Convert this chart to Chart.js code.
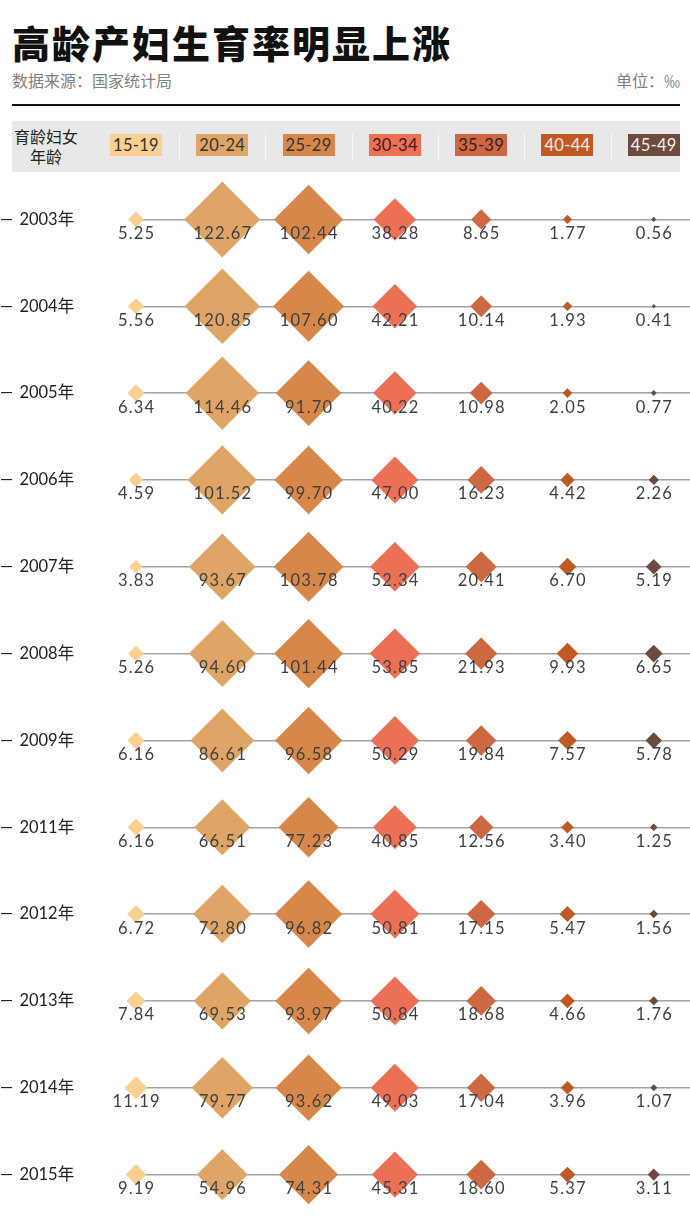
<!DOCTYPE html>
<html>
<head>
<meta charset="utf-8">
<script src="https://cdn.jsdelivr.net/npm/chart.js@4.4.1/dist/chart.umd.min.js"></script>
<style>
  html, body { margin: 0; padding: 0; background: #fff; }
  body { width: 690px; height: 1228px; position: relative; overflow: hidden; font-family: Lato, "Noto Sans CJK SC", sans-serif; }
  .abs { position: absolute; }
  #title { left: 12px; top: 19px; font-family: "Noto Sans CJK SC", sans-serif; font-weight: 900; font-size: 38px; line-height: 46px; letter-spacing: 2px; color: #111; white-space: nowrap; }
  #source { left: 12px; top: 69px; font-family: "Noto Sans CJK SC", sans-serif; font-size: 16px; line-height: 22px; color: #808080; white-space: nowrap; }
  #unit { right: 10px; top: 69px; font-family: "Noto Sans CJK SC", sans-serif; font-size: 16px; line-height: 22px; color: #808080; white-space: nowrap; }
  #rule { left: 12px; top: 104px; width: 668px; height: 2px; background: #111; }
  #band { left: 12px; top: 121px; width: 668px; height: 51px; background: #e8e8e8; }
  #bandTitle { left: 12px; top: 126px; width: 68px; text-align: center; font-family: "Noto Sans CJK SC", sans-serif; font-size: 16px; line-height: 20px; color: #222; }
  .key { top: 134px; width: 52px; height: 22px; line-height: 22px; text-align: center; font-family: Lato, sans-serif; font-size: 16.5px; letter-spacing: 0.3px; }
  .sep { top: 133px; width: 1px; height: 28px; background: #f6f6f6; }
  #wrap { left: 0; top: 176px; width: 690px; height: 1042px; }
</style>
</head>
<body>
<div id="title" class="abs">高龄产妇生育率明显上涨</div>
<div id="source" class="abs">数据来源：国家统计局</div>
<div id="unit" class="abs">单位：‰</div>
<div id="rule" class="abs"></div>
<div id="band" class="abs"></div>
<div id="bandTitle" class="abs">育龄妇女<br>年龄</div>
<div id="wrap" class="abs"><canvas id="c" width="690" height="1042"></canvas></div>
<script>
// ---- data ----
const years = ['2003年', '2004年', '2005年', '2006年', '2007年', '2008年', '2009年', '2011年', '2012年', '2013年', '2014年', '2015年'];
const ageGroups = ['15-19', '20-24', '25-29', '30-34', '35-39', '40-44', '45-49'];
const age15_19 = [5.25, 5.56, 6.34, 4.59, 3.83, 5.26, 6.16, 6.16, 6.72, 7.84, 11.19, 9.19];
const age20_24 = [122.67, 120.85, 114.46, 101.52, 93.67, 94.60, 86.61, 66.51, 72.80, 69.53, 79.77, 54.96];
const age25_29 = [102.44, 107.60, 91.70, 99.70, 103.78, 101.44, 96.58, 77.23, 96.82, 93.97, 93.62, 74.31];
const age30_34 = [38.28, 42.21, 40.22, 47.00, 52.34, 53.85, 50.29, 40.85, 50.81, 50.84, 49.03, 45.31];
const age35_39 = [8.65, 10.14, 10.98, 16.23, 20.41, 21.93, 19.84, 12.56, 17.15, 18.68, 17.04, 18.60];
const age40_44 = [1.77, 1.93, 2.05, 4.42, 6.70, 9.93, 7.57, 3.40, 5.47, 4.66, 3.96, 5.37];
const age45_49 = [0.56, 0.41, 0.77, 2.26, 5.19, 6.65, 5.78, 1.25, 1.56, 1.76, 1.07, 3.11];
const seriesValues = [age15_19, age20_24, age25_29, age30_34, age35_39, age40_44, age45_49];

// ---- styles ----
const colors = ['#f9cf92', '#dfa566', '#d8874a', '#ec7056', '#cd6842', '#c05a25', '#6d4a40'];
const keyTextColors = ['#333', '#333', '#333', '#3a1c14', '#3a1c14', '#f6ece4', '#f4f0ee'];
const SIZE_K = 3.43; // diamond half-diagonal ~ sqrt(value) (area proportional)

const datasets = seriesValues.map((vals, gi) => ({
  label: ageGroups[gi],
  data: vals.map((v, yi) => ({ x: gi, y: years[yi], v: v })),
  pointStyle: 'rectRot',
  pointRadius: ctx => SIZE_K * Math.sqrt(ctx.raw.v),
  backgroundColor: colors[gi],
  borderColor: colors[gi],
  pointBorderWidth: 0,
  showLine: false,
  clip: false
}));

const valueLabels = {
  id: 'valueLabels',
  afterDatasetsDraw(chart) {
    const ctx = chart.ctx;
    ctx.save();
    ctx.font = '16.5px Lato, sans-serif';
    try { ctx.letterSpacing = '1.2px'; } catch (e) {}
    ctx.fillStyle = '#404040';
    ctx.textAlign = 'center';
    ctx.textBaseline = 'alphabetic';
    chart.data.datasets.forEach((ds, di) => {
      const meta = chart.getDatasetMeta(di);
      meta.data.forEach((el, i) => {
        ctx.fillText(ds.data[i].v.toFixed(2), el.x + 0.6, el.y + 19.5);
      });
    });
    ctx.restore();
  }
};

const chart = new Chart(document.getElementById('c'), {
  type: 'scatter',
  data: { datasets },
  options: {
    responsive: false,
    devicePixelRatio: 1,
    animation: false,
    events: [],
    layout: { padding: 0, autoPadding: false },
    plugins: { legend: { display: false }, tooltip: { enabled: false } },
    scales: {
      x: {
        type: 'linear', min: 0, max: 6.42, display: false
      },
      y: {
        type: 'category', labels: years, offset: true,
        afterFit: s => { s.width = 136; s.paddingTop = 0; s.paddingBottom = 0; },
        border: { display: false },
        grid: { offset: false, color: '#a3a3a3', lineWidth: 1.5, drawTicks: false },
        ticks: {
          crossAlign: 'far', padding: 0, color: '#222',
          font: { family: 'Lato, "Noto Sans CJK SC", sans-serif', size: 16.5 },
          callback: function (val) { return '\u2014 \u2009' + this.getLabelForValue(val); }
        }
      }
    }
  },
  plugins: [valueLabels]
});

// header keys aligned to the chart's x scale
const xs = chart.scales.x;
ageGroups.forEach((g, i) => {
  const cx = xs.getPixelForValue(i);
  const d = document.createElement('div');
  d.className = 'abs key';
  d.style.left = (cx - 26) + 'px';
  d.style.background = colors[i];
  d.style.color = keyTextColors[i];
  d.textContent = g;
  document.body.appendChild(d);
  if (i > 0) {
    const s = document.createElement('div');
    s.className = 'abs sep';
    s.style.left = Math.round((cx + xs.getPixelForValue(i - 1)) / 2) + 'px';
    document.body.appendChild(s);
  }
});
</script>
</body>
</html>
